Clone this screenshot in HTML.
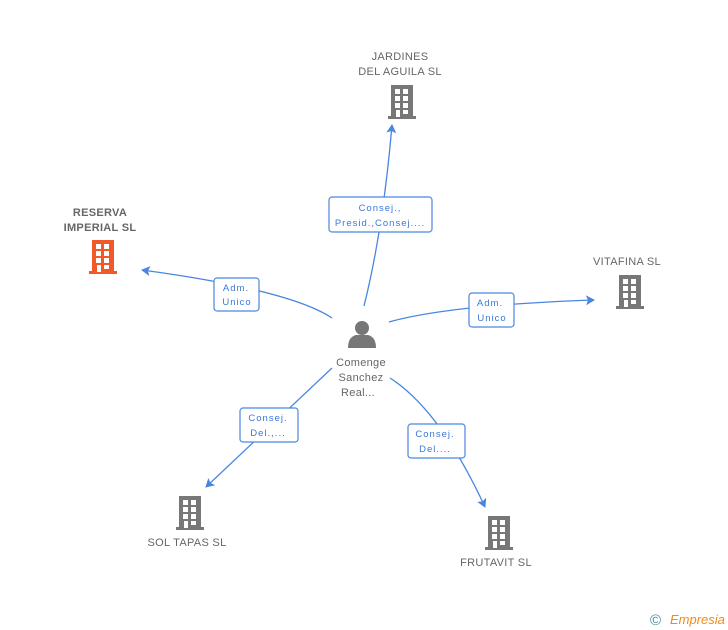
<!DOCTYPE html>
<html><head><meta charset="utf-8"><style>
html,body{margin:0;padding:0;background:#fff;width:728px;height:630px;overflow:hidden}
svg{display:block;font-family:"Liberation Sans",sans-serif}
.l{fill:none;stroke:#4a86e0;stroke-width:1.3}
.b{fill:#fff;stroke:#4a86e0;stroke-width:1.2}
.bt{fill:#3a78d8;font-size:9.5px;letter-spacing:1px;text-anchor:middle}
.n{fill:#666;font-size:11px;text-anchor:middle;letter-spacing:.3px}
</style></head><body>
<svg width="728" height="630" viewBox="0 0 728 630">
<defs>
<g id="bld">
<rect x="3" y="0" width="22" height="32"/>
<rect x="0" y="31" width="28" height="3"/>
<g fill="#fff">
<rect x="7" y="4" width="5" height="5"/><rect x="15" y="4" width="5" height="5"/>
<rect x="7" y="11" width="5" height="5"/><rect x="15" y="11" width="5" height="5"/>
<rect x="7" y="18" width="5" height="5"/><rect x="15" y="18" width="5" height="5"/>
<rect x="8" y="25" width="4" height="7"/><rect x="15" y="25" width="5" height="4"/>
</g>
</g>
<marker id="ar" markerWidth="10" markerHeight="10" refX="8" refY="5" orient="auto" markerUnits="userSpaceOnUse"><path d="M0,0 L9,5 L0,10 L2,5 Z" fill="#4a86e0"/></marker>
</defs>
<path class="l" d="M364,306 Q383,230 392,125" marker-end="url(#ar)"/>
<path class="l" d="M332,318 Q290,290 142,270" marker-end="url(#ar)"/>
<path class="l" d="M389,322 Q450,305 594,300" marker-end="url(#ar)"/>
<path class="l" d="M332,368 L206,487" marker-end="url(#ar)"/>
<path class="l" d="M390,378 Q440,410 485,507" marker-end="url(#ar)"/>
<rect class="b" x="329" y="197" width="103" height="35" rx="3"/>
<text class="bt" x="380" y="211">Consej.,</text><text class="bt" x="380" y="226">Presid.,Consej....</text>
<rect class="b" x="214" y="278" width="45" height="33" rx="3"/>
<text class="bt" x="236" y="291">Adm.</text><text class="bt" x="237" y="305">Unico</text>
<rect class="b" x="469" y="293" width="45" height="34" rx="3"/>
<text class="bt" x="490" y="306">Adm.</text><text class="bt" x="492" y="321">Unico</text>
<rect class="b" x="240" y="408" width="58" height="34" rx="3"/>
<text class="bt" x="268" y="421">Consej.</text><text class="bt" x="268" y="436">Del.,...</text>
<rect class="b" x="408" y="424" width="57" height="34" rx="3"/>
<text class="bt" x="435" y="437">Consej.</text><text class="bt" x="435" y="452">Del....</text>
<g fill="#777">
<circle cx="362" cy="328" r="7"/>
<path d="M348,348 Q348,337 356,335 L368,335 Q376,337 376,348 Z"/>
</g>
<text class="n" x="361" y="366">Comenge</text><text class="n" x="361" y="381">Sanchez</text><text class="n" x="358" y="396">Real...</text>
<use href="#bld" x="388" y="85" fill="#777"/>
<text class="n" x="400" y="60">JARDINES</text><text class="n" x="400" y="75">DEL AGUILA SL</text>
<use href="#bld" x="89" y="240" fill="#f05a2a"/>
<text class="n" x="100" y="216" font-weight="bold">RESERVA</text><text class="n" x="100" y="231" font-weight="bold">IMPERIAL  SL</text>
<use href="#bld" x="616" y="275" fill="#777"/>
<text class="n" x="627" y="265">VITAFINA SL</text>
<use href="#bld" x="176" y="496" fill="#777"/>
<text class="n" x="187" y="546">SOL TAPAS SL</text>
<use href="#bld" x="485" y="516" fill="#777"/>
<text class="n" x="496" y="566">FRUTAVIT SL</text>
<text x="650" y="625" fill="#3a8aa0" font-size="15">©</text>
<text x="670" y="624" fill="#f08a20" font-size="13" font-style="italic">Empresia</text>
</svg>
</body></html>
